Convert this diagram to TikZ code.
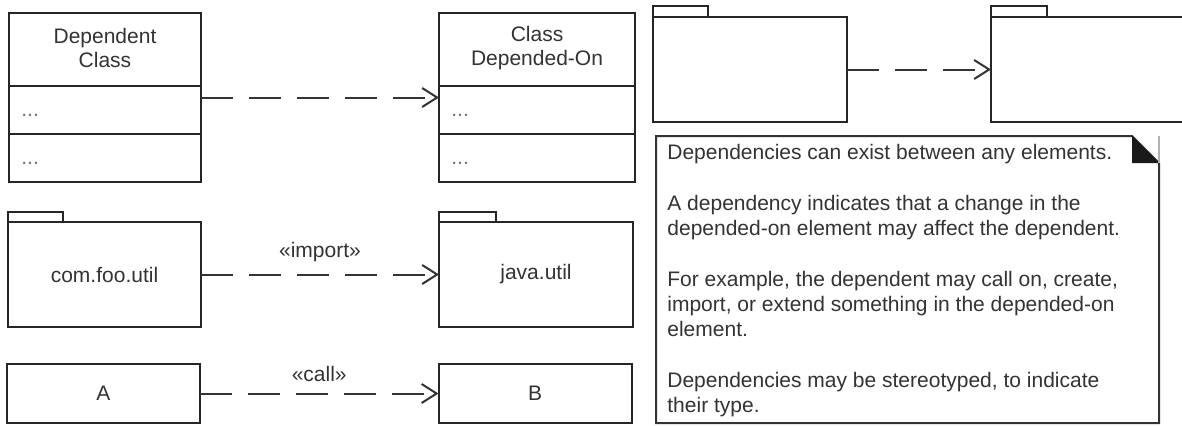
\documentclass[tikz,border=0pt]{standalone}
\usepackage{fontspec}
\setmainfont{Liberation Sans}
\usetikzlibrary{positioning,calc,arrows.meta}
\tikzset{
    every node/.style={font=\fontsize{10.5}{12}\selectfont, text=black!80},
    classbox/.style={draw=black!85, line width=1pt, minimum width=96pt, minimum height=84.5pt, inner sep=0pt, outer sep=0pt},
    pkgbox/.style={draw=black!85, line width=1pt, minimum width=97pt, minimum height=52.5pt, inner sep=0pt, outer sep=0pt, align=center},
    plainbox/.style={draw=black!85, line width=1pt, minimum width=96.5pt, minimum height=29.5pt, inner sep=0pt, outer sep=0pt},
    tab/.style={draw=black!85, line width=1pt},
    divider/.style={draw=black!85, line width=1pt},
    dots/.style={anchor=base west, inner sep=0pt, text=black!55},
    depend/.style={-{Straight Barb[length=7.5pt,width=9.5pt]}, draw=black!80, line width=1pt, dash pattern=on 16pt off 8pt},
    stereo/.style={midway, inner sep=0pt},
    notebox/.style={draw=black!80, line width=1pt},
    notetext/.style={align=left, inner sep=0pt, font=\fontsize{10.5}{12.65}\selectfont},
}
\begin{document}
\begin{tikzpicture}[x=0.5pt,y=-0.5pt]
\useasboundingbox (0,0) rectangle (1182,425);
\clip (0,0) rectangle (1182,425);
\fill[white] (0,0) rectangle (1182,425);
% classes
\node[classbox] (depc) at (105,97.5) {};
\node[classbox, minimum width=98pt] (dpon) at (537,97.5) {};
\foreach \c in {depc,dpon}{
  \draw[divider] ([yshift=-36.5pt]\c.north west) -- ([yshift=-36.5pt]\c.north east);
  \draw[divider] ([yshift=-60.5pt]\c.north west) -- ([yshift=-60.5pt]\c.north east);
  \node[dots] (\c-attr) at ([xshift=6pt,yshift=-51.5pt]\c.north west) {...};
  \node[dots] (\c-ops) at ([xshift=6pt,yshift=-75.5pt]\c.north west) {...};
}
\node[align=center] (depc-name) at ([yshift=-17.5pt]depc.north) {Dependent\\Class};
\node[align=center] (dpon-name) at ([yshift=-17.5pt]dpon.north) {Class\\Depended-On};
\draw[depend] (depc) -- (dpon);
% packages
\node[pkgbox, minimum width=96.5pt] (foo) at (104.5,274.5) {com.foo.util};
\node[pkgbox] (java) at (536,274.5) {java.util};
\draw[tab] (foo.north west) rectangle ++(55,-10);
\draw[tab] (java.north west) rectangle ++(57,-10);
\draw[depend] (foo) -- node[stereo, yshift=11pt] (imp) {«import»} (java);
% plain classes
\node[plainbox] (A) at (103.5,393.5) {A};
\node[plainbox] (B) at (535,393.5) {B};
\draw[depend] (A) -- node[stereo, yshift=10pt] (call) {«call»} (B);
% empty packages, top right
\node[pkgbox] (pkgL) at (750,69.5) {};
\node[pkgbox, minimum width=100pt] (pkgR) at (1091,69.5) {};
\draw[tab] (pkgL.north west) rectangle ++(55,-11);
\draw[tab] (pkgR.north west) rectangle ++(56,-11);
\draw[depend] (pkgL) -- (pkgR);
% note
\draw[notebox] (656,136) -- (1132,136) -- (1159,163) -- (1159,423) -- (656,423) -- cycle;
\fill[black!90] (1132,136) -- (1159,163) -- (1132,163) -- cycle;
\draw[black!30, line width=0.6pt] (1159,136) -- (1159,163);
\node[notetext, anchor=north west] (note) at (667,144) {%
Dependencies can exist between any elements.\\[12.65pt]
A dependency indicates that a change in the\\
depended-on element may affect the dependent.\\[12.65pt]
For example, the dependent may call on, create,\\
import, or extend something in the depended-on\\
element.\\[12.65pt]
Dependencies may be stereotyped, to indicate\\
their type.};
\end{tikzpicture}
\end{document}
